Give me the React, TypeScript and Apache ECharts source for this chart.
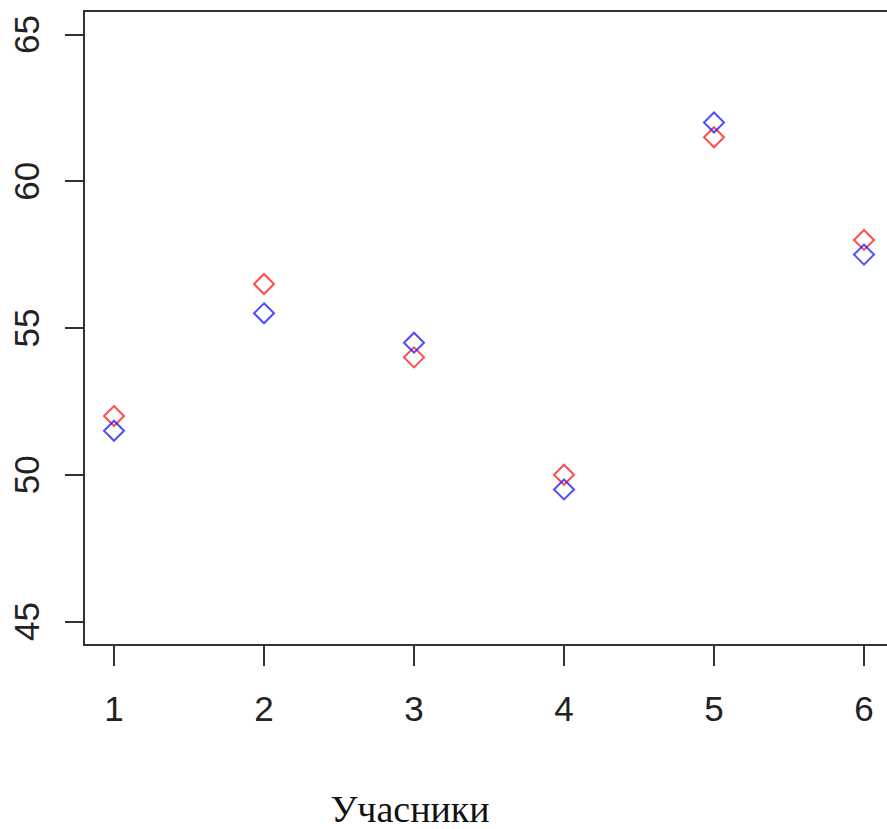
import React, { useEffect, useRef } from "react";
import * as echarts from "echarts";

const participants = [1, 2, 3, 4, 5, 6];
const redValues = [52, 56.5, 54, 50, 61.5, 58];
const blueValues = [51.5, 55.5, 54.5, 49.5, 62, 57.5];
const xTicks = [1, 2, 3, 4, 5, 6];
const yTicks = [45, 50, 55, 60, 65];
const xTitle = "Учасники";

export default function App() {
  const ref = useRef<HTMLDivElement>(null);
  useEffect(() => {
    if (!ref.current) return;
    const chart = echarts.init(ref.current, undefined, { renderer: "svg" });
    const axisColor = "#333";
    chart.setOption({
      animation: false,
      backgroundColor: "#fff",
      grid: {
        left: 84,
        top: 11,
        right: 6,
        bottom: 184,
        show: true,
        borderColor: axisColor,
        borderWidth: 2,
        backgroundColor: "transparent",
      },
      xAxis: {
        type: "value",
        min: 0.8,
        max: 6.2,
        splitLine: { show: false },
        axisLine: { show: false },
        axisTick: {
          show: true,
          customValues: xTicks,
          length: 21,
          lineStyle: { color: axisColor, width: 2 },
        },
        axisLabel: {
          customValues: xTicks,
          margin: 46,
          fontSize: 35,
          fontFamily: "Liberation Sans",
          color: "#222",
        },
      },
      yAxis: {
        type: "value",
        min: 44.2,
        max: 65.8,
        splitLine: { show: false },
        axisLine: { show: false },
        axisTick: {
          show: true,
          customValues: yTicks,
          length: 19,
          lineStyle: { color: axisColor, width: 2 },
        },
        axisLabel: {
          customValues: yTicks,
          rotate: 90,
          margin: 40,
          fontSize: 35,
          fontFamily: "Liberation Sans",
          color: "#222",
        },
      },
      graphic: [
        {
          type: "text",
          x: 410,
          y: 809,
          style: {
            text: xTitle,
            fontSize: 38,
            fontFamily: "Liberation Serif",
            fill: "#111",
            textAlign: "center",
            textVerticalAlign: "middle",
          },
        },
      ],
      series: [
        {
          type: "scatter",
          data: participants.map((p, i) => [p, redValues[i]]),
          symbol: "diamond",
          symbolSize: 20,
          itemStyle: { color: "transparent", borderColor: "#ff2020", borderWidth: 2 },
        },
        {
          type: "scatter",
          data: participants.map((p, i) => [p, blueValues[i]]),
          symbol: "diamond",
          symbolSize: 20,
          itemStyle: { color: "transparent", borderColor: "#2020ff", borderWidth: 2 },
        },
      ],
    });
    return () => chart.dispose();
  }, []);
  return (
    <div style={{ width: 887, height: 829, position: "absolute", left: 0, top: 0, overflow: "hidden" }}>
      <div ref={ref} style={{ width: 900, height: 829 }} />
    </div>
  );
}
